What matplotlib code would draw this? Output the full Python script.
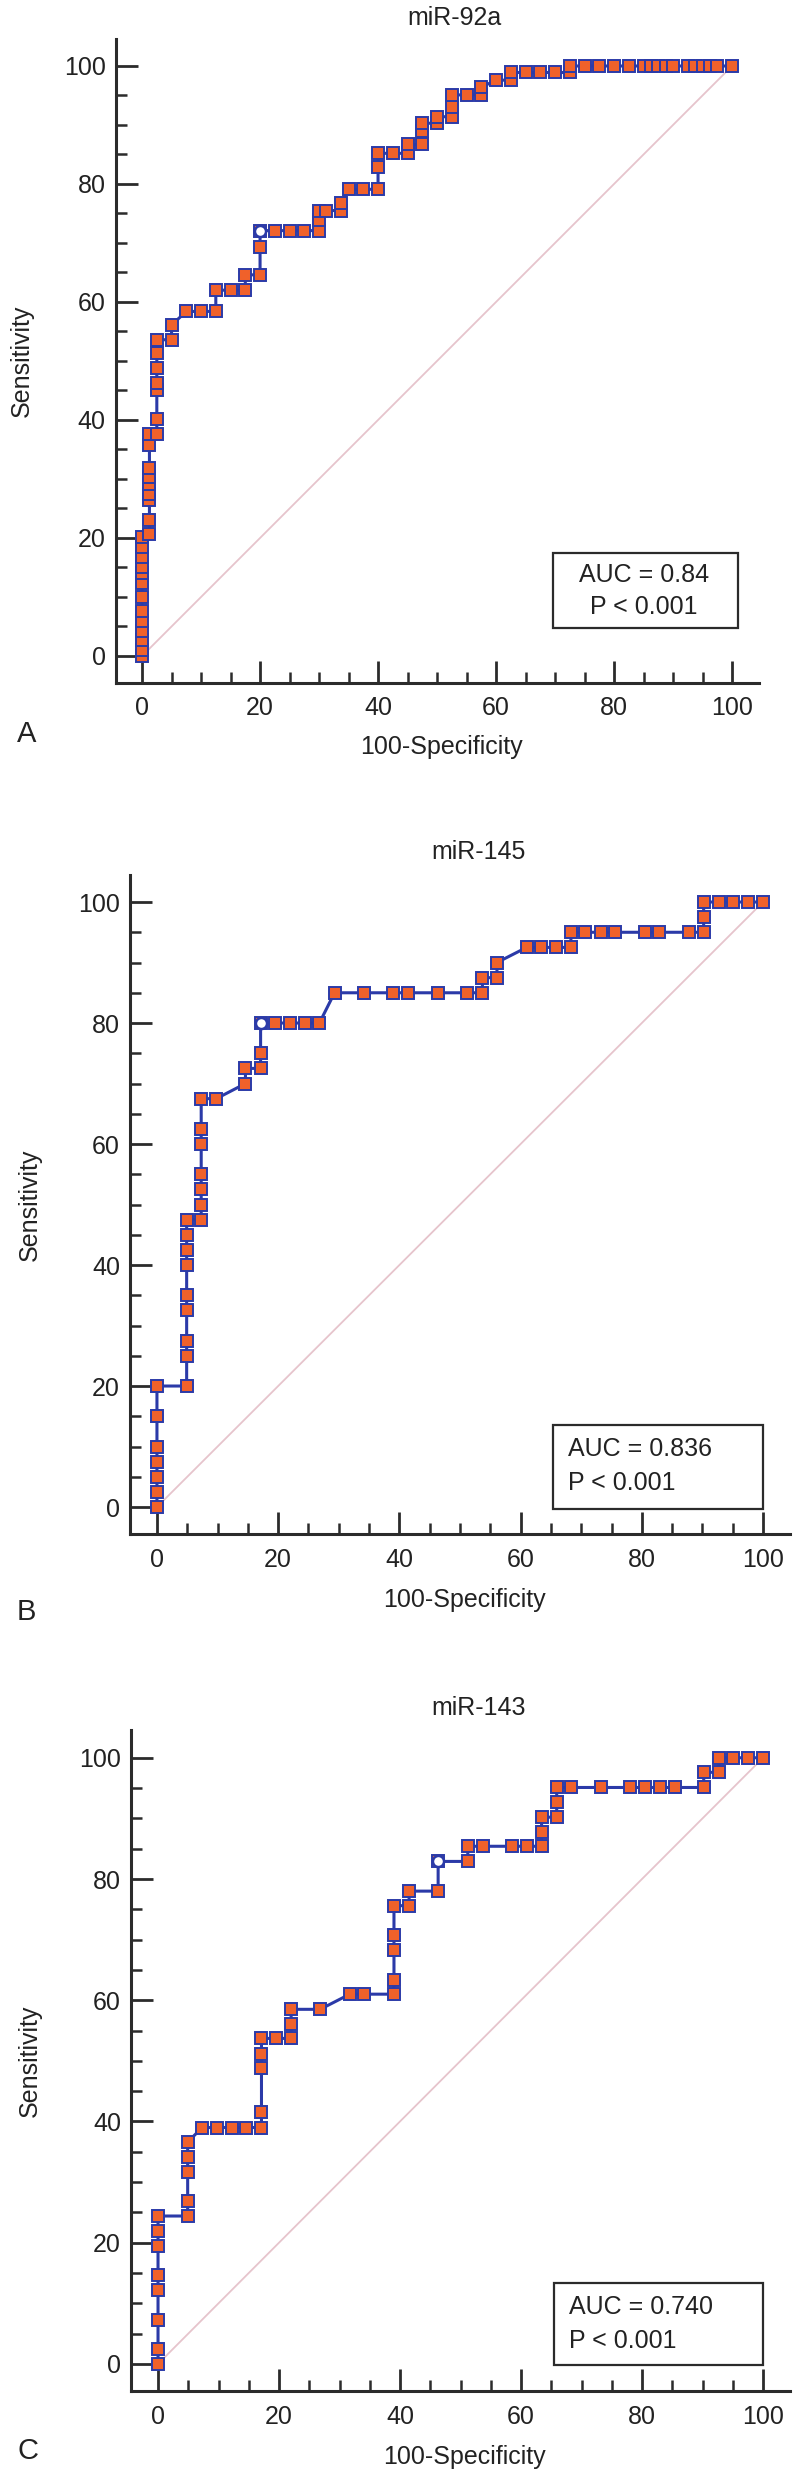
import matplotlib.pyplot as plt
from matplotlib.patches import Rectangle
from matplotlib.ticker import MultipleLocator

plt.rcParams['font.family'] = ['Liberation Sans', 'DejaVu Sans']

# miR-92a : ROC points (100-Specificity, Sensitivity)
fpr_a = [0, 0, 0, 0, 0, 0, 0, 0, 0, 0, 0, 0, 0,
         1.25, 1.25, 1.25, 1.25, 1.25, 1.25, 1.25, 1.25, 1.25,
         2.5, 2.5, 2.5, 2.5, 2.5, 2.5, 2.5,
         5, 5, 7.5, 10, 12.5, 12.5, 15, 17.5, 17.5, 20, 20, 20,
         22.5, 25, 27.5, 30, 30, 30, 31.25, 33.75, 33.75,
         35, 37.5, 40, 40, 40, 42.5, 45, 45, 47.5, 47.5, 47.5, 50, 50,
         52.5, 52.5, 52.5, 55, 57.5, 57.5, 60, 62.5, 62.5, 65, 67.5, 70, 72.5,
         72.5, 75, 77.5, 80, 82.5, 85, 86.25, 87.5, 88.75, 90, 92.5, 93.75,
         95, 96.25, 97.5, 100]
sens_a = [0, 1.0, 2.7, 4.3, 6.0, 7.7, 10.0, 12.3, 14.0, 15.1, 16.8, 18.5, 20.2,
          20.7, 23.0, 26.4, 27.5, 29.2, 30.3, 31.8, 35.7, 37.7,
          37.7, 40.2, 45.0, 46.3, 48.8, 51.3, 53.6,
          53.6, 56.1, 58.4, 58.4, 58.4, 62.0, 62.0, 62.0, 64.6, 64.6, 69.4, 72.1,
          72.1, 72.1, 72.1, 72.1, 73.9, 75.5, 75.5, 75.5, 76.7,
          79.1, 79.1, 79.1, 82.9, 85.2, 85.2, 85.2, 86.7, 86.7, 88.9, 90.3, 90.3, 91.4,
          91.4, 93.1, 95.1, 95.1, 95.1, 96.4, 97.6, 97.6, 98.9, 98.9, 98.9, 98.9, 98.9,
          100, 100, 100, 100, 100, 100, 100, 100, 100, 100, 100, 100,
          100, 100, 100, 100]
cut_a = (20, 72.1)

# miR-145
fpr_b = [0, 0, 0, 0, 0, 0, 0,
         4.9, 4.9, 4.9, 4.9, 4.9, 4.9, 4.9, 4.9, 4.9,
         7.3, 7.3, 7.3, 7.3, 7.3, 7.3, 7.3,
         9.8, 14.6, 14.6, 17.1, 17.1, 17.1,
         19.5, 22.0, 24.4, 26.8, 29.3, 34.1, 39.0, 41.5, 46.3, 51.2, 53.7, 53.7,
         56.1, 56.1, 61.0, 63.4, 65.9, 68.3, 68.3, 70.7, 73.2, 75.6, 80.5, 82.9,
         87.8, 90.2, 90.2, 90.2, 92.7, 95.1, 97.6, 100]
sens_b = [0, 2.5, 5, 7.5, 10, 15, 20,
          20, 25, 27.5, 32.5, 35, 40, 42.5, 45, 47.5,
          47.5, 50, 52.5, 55, 60, 62.5, 67.5,
          67.5, 70, 72.5, 72.5, 75, 80,
          80, 80, 80, 80, 85, 85, 85, 85, 85, 85, 85, 87.5,
          87.5, 90, 92.5, 92.5, 92.5, 92.5, 95, 95, 95, 95, 95, 95,
          95, 95, 97.5, 100, 100, 100, 100, 100]
cut_b = (17.1, 80)

# miR-143
fpr_c = [0, 0, 0, 0, 0, 0, 0, 0,
         4.9, 4.9, 4.9, 4.9, 4.9,
         7.3, 9.8, 12.2, 14.6, 17.1, 17.1, 17.1, 17.1, 17.1,
         19.5, 22.0, 22.0, 22.0, 26.8, 31.7, 34.1, 39.0, 39.0, 39.0, 39.0, 39.0,
         41.5, 41.5, 46.3, 46.3, 51.2, 51.2, 53.7, 58.5, 61.0, 63.4, 63.4, 63.4,
         65.9, 65.9, 65.9, 68.3, 73.2, 78.0, 80.5, 82.9, 85.4, 90.2, 90.2,
         92.7, 92.7, 95.1, 97.6, 100]
sens_c = [0, 2.4, 7.3, 12.2, 14.6, 19.5, 22.0, 24.4,
          24.4, 26.8, 31.7, 34.1, 36.6,
          39.0, 39.0, 39.0, 39.0, 39.0, 41.5, 48.8, 51.2, 53.7,
          53.7, 53.7, 56.1, 58.5, 58.5, 61.0, 61.0, 61.0, 63.4, 68.3, 70.7, 75.6,
          75.6, 78.0, 78.0, 82.9, 82.9, 85.4, 85.4, 85.4, 85.4, 85.4, 87.8, 90.2,
          90.2, 92.7, 95.1, 95.1, 95.1, 95.1, 95.1, 95.1, 95.1, 95.1, 97.6,
          97.6, 100, 100, 100, 100]
cut_c = (46.3, 82.9)

titles = ["miR-92a", "miR-145", "miR-143"]
auc_lines = [["AUC = 0.84", "P < 0.001"],
             ["AUC = 0.836", "P < 0.001"],
             ["AUC = 0.740", "P < 0.001"]]
letters = ["A", "B", "C"]

LINE = '#2b3aa8'
FILL = '#f0612a'
DARK = '#2b2b2b'

fig = plt.figure(figsize=(8, 24.81), dpi=100)

rects = [[0.1444, 0.7249, 0.8038, 0.2592],
         [0.1621, 0.3816, 0.8258, 0.2658],
         [0.1635, 0.0362, 0.8243, 0.2663]]
fprs = [fpr_a, fpr_b, fpr_c]
senss = [sens_a, sens_b, sens_c]
cuts = [cut_a, cut_b, cut_c]
# box (x0, y0, x1, y1), text x, text ys, alignment
boxes = [((69.6, 4.7, 101, 17.4), 85.1, (13.75, 8.35), 'center'),
         ((65.3, -0.3, 100, 13.6), 67.9, (9.6, 4.0), 'left'),
         ((65.4, -0.1, 100, 13.4), 67.9, (9.4, 3.8), 'left')]
letter_pos = [(-19.5, -13.2), (-21.5, -17.4), (-21.5, -14.4)]
ylab_x = [-20.3, -21.0, -21.2]

for i in range(3):
    ax = fig.add_axes(rects[i])
    ax.set_xlim(-4.5, 104.5)
    ax.set_ylim(-4.5, 104.5)

    # reference diagonal
    ax.plot([0, 100], [0, 100], color='#e6c4cc', lw=1.3, zorder=1)

    ax.plot(fprs[i], senss[i], color=LINE, lw=2.2, marker='s', ms=8.5,
            mfc=FILL, mec=LINE, mew=1.4, zorder=3, clip_on=False)
    ax.plot([cuts[i][0]], [cuts[i][1]], marker='o', ms=8, mfc='white',
            mec=LINE, mew=1.8, zorder=4, clip_on=False)

    for side in ['top', 'right']:
        ax.spines[side].set_visible(False)
    for side in ['left', 'bottom']:
        ax.spines[side].set_linewidth(2.2)
        ax.spines[side].set_color(DARK)

    ax.xaxis.set_major_locator(MultipleLocator(20))
    ax.xaxis.set_minor_locator(MultipleLocator(5))
    ax.yaxis.set_major_locator(MultipleLocator(20))
    ax.yaxis.set_minor_locator(MultipleLocator(5))
    ax.set_xticks([t for t in range(0, 101, 20)])
    ax.set_yticks([t for t in range(0, 101, 20)])
    ax.set_xticks([t for t in range(0, 101, 5)], minor=True)
    ax.set_yticks([t for t in range(0, 101, 5)], minor=True)
    ax.tick_params(which='major', direction='in', length=16, width=2,
                   color=DARK, labelsize=18, labelcolor='#222222')
    ax.tick_params(axis='x', which='major', pad=10)
    ax.tick_params(axis='y', which='major', pad=7)
    ax.tick_params(which='minor', direction='in', length=8, width=1.8, color=DARK)

    ax.text(53, 108.2, titles[i], ha='center', va='center', fontsize=18,
            color='#222222', clip_on=False)
    ax.text(50.7, -15.4, "100-Specificity", ha='center', va='center',
            fontsize=18, color='#222222', clip_on=False)
    ax.text(ylab_x[i], 50, "Sensitivity", ha='center', va='center',
            rotation=90, fontsize=18, color='#222222', clip_on=False)
    ax.text(letter_pos[i][0], letter_pos[i][1], letters[i], ha='center',
            va='center', fontsize=21, color='#222222', clip_on=False)

    (bx0, by0, bx1, by1), tx, tys, align = boxes[i]
    ax.add_patch(Rectangle((bx0, by0), bx1 - bx0, by1 - by0, facecolor='white',
                           edgecolor=DARK, lw=1.6, zorder=5, clip_on=False))
    for line, ty in zip(auc_lines[i], tys):
        ax.text(tx, ty, line, ha=align, va='center', fontsize=18,
                color='#222222', zorder=6)

plt.savefig("out.png", dpi=100)
